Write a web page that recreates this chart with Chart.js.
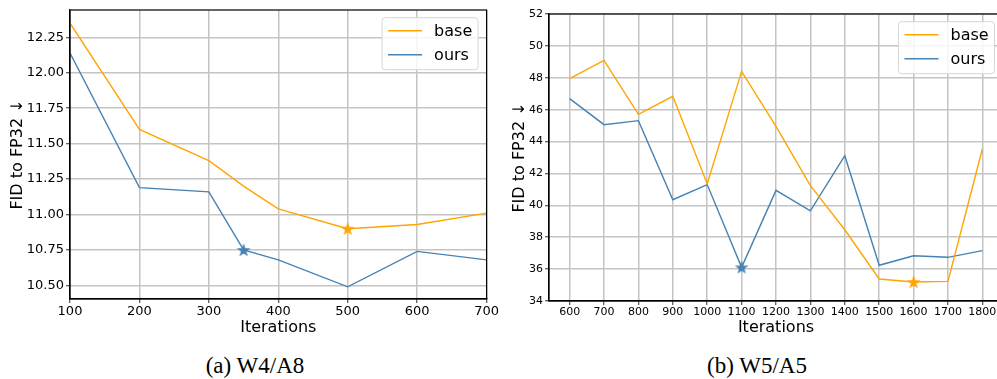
<!DOCTYPE html>
<html>
<head>
<meta charset="utf-8">
<script src="https://cdn.jsdelivr.net/npm/chart.js@4.4.1/dist/chart.umd.min.js"></script>
<style>
  html, body { margin: 0; padding: 0; background: #fff; overflow: hidden; width: 997px; height: 379px; }
  .wrap { position: absolute; top: 0; height: 340px; }
  #w1 { left: 0; width: 500px; }
  #w2 { left: 500px; width: 520px; }
  .cap { position: absolute; top: 353px; font-family: "Liberation Serif", "Times New Roman", serif; font-size: 23px; transform: translateX(-50%); white-space: nowrap; line-height: 26px; }
</style>
</head>
<body>
<div class="wrap" id="w1"><canvas id="chart1" width="500" height="340"></canvas></div>
<div class="wrap" id="w2"><canvas id="chart2" width="520" height="340"></canvas></div>
<div class="cap" style="left:255px">(a) W4/A8</div>
<div class="cap" style="left:757px">(b) W5/A5</div>
<script>
// left panel: W4/A8
const iters1 = [100, 200, 300, 350, 400, 500, 600, 700];
const base1 = [12.35, 11.60, 11.38, 11.20, 11.04, 10.90, 10.93, 11.01];
const ours1 = [12.14, 11.19, 11.16, 10.75, 10.68, 10.49, 10.74, 10.68];
const xTicks1 = [100, 200, 300, 400, 500, 600, 700];
const yTicks1 = [10.50, 10.75, 11.00, 11.25, 11.50, 11.75, 12.00, 12.25];
const bestBase1 = 500;
const bestOurs1 = 350;

// right panel: W5/A5
const iters2 = [600, 700, 800, 900, 1000, 1100, 1200, 1300, 1400, 1500, 1600, 1700, 1800];
const base2 = [47.94, 49.09, 45.71, 46.84, 41.34, 48.40, 44.95, 41.23, 38.47, 35.38, 35.19, 35.23, 43.53];
const ours2 = [46.69, 45.06, 45.31, 40.35, 41.30, 36.11, 40.94, 39.66, 43.11, 36.24, 36.84, 36.74, 37.16];
const xTicks2 = [600, 700, 800, 900, 1000, 1100, 1200, 1300, 1400, 1500, 1600, 1700, 1800];
const yTicks2 = [34, 36, 38, 40, 42, 44, 46, 48, 50, 52];
const bestBase2 = 1600;
const bestOurs2 = 1100;

const seriesNames = ['base', 'ours'];
const ORANGE = '#ffa500';
const BLUE = '#4682b4';

Chart.defaults.font.family = 'DejaVu Sans';
Chart.defaults.color = '#000';

function pts(xs, ys) {
  return xs.map((x, i) => ({ x: x, y: ys[i] }));
}

function starImage(color) {
  const c = document.createElement('canvas');
  c.width = 16; c.height = 16;
  const g = c.getContext('2d');
  g.beginPath();
  for (let i = 0; i < 10; i++) {
    const r = i % 2 === 0 ? 7.2 : 2.9;
    const a = -Math.PI / 2 + i * Math.PI / 5;
    const px = 8 + r * Math.cos(a), py = 8.5 + r * Math.sin(a);
    if (i === 0) g.moveTo(px, py); else g.lineTo(px, py);
  }
  g.closePath();
  g.fillStyle = color;
  g.fill();
  return c;
}

const framePlugin = {
  id: 'frame',
  afterDatasetsDraw(chart) {
    const a = chart.chartArea, ctx = chart.ctx;
    ctx.save();
    ctx.strokeStyle = '#000';
    ctx.lineWidth = 1.2;
    ctx.strokeRect(a.left, a.top, a.right - a.left, a.bottom - a.top);
    ctx.restore();
  }
};

const legendPlugin = {
  id: 'mplLegend',
  afterDatasetsDraw(chart) {
    const a = chart.chartArea, ctx = chart.ctx;
    const w = 96, h = 52;
    const x0 = a.right - 8.5 - w, y0 = a.top + 7.7;
    ctx.save();
    ctx.beginPath();
    ctx.roundRect(x0, y0, w, h, 3);
    ctx.fillStyle = 'rgba(255,255,255,0.85)';
    ctx.fill();
    ctx.strokeStyle = '#d6d6d6';
    ctx.lineWidth = 1;
    ctx.stroke();
    const colors = [ORANGE, BLUE];
    ctx.font = '16px "DejaVu Sans"';
    ctx.textBaseline = 'middle';
    seriesNames.forEach((name, i) => {
      const y = y0 + 13 + i * 24;
      ctx.strokeStyle = colors[i];
      ctx.lineWidth = 1.4;
      ctx.beginPath();
      ctx.moveTo(x0 + 6, y);
      ctx.lineTo(x0 + 40, y);
      ctx.stroke();
      ctx.fillStyle = '#000';
      ctx.fillText(name, x0 + 52, y + 1);
    });
    ctx.restore();
  }
};

function makeChart(id, cfg) {
  const xs = cfg.iters;
  const datasets = [
    { data: pts(xs, cfg.base), borderColor: ORANGE, borderWidth: 1.4, showLine: true, pointRadius: 0, tension: 0 },
    { data: pts(xs, cfg.ours), borderColor: BLUE, borderWidth: 1.4, showLine: true, pointRadius: 0, tension: 0 },
    { data: [{ x: cfg.bestBase, y: cfg.base[xs.indexOf(cfg.bestBase)] }], pointStyle: starImage(ORANGE), pointRadius: 8, showLine: false },
    { data: [{ x: cfg.bestOurs, y: cfg.ours[xs.indexOf(cfg.bestOurs)] }], pointStyle: starImage(BLUE), pointRadius: 8, showLine: false }
  ];
  const gridOpts = { color: '#c4c4c4', lineWidth: 1.5, drawTicks: true, tickLength: 4, tickColor: '#333', tickWidth: 1 };
  return new Chart(document.getElementById(id), {
    type: 'scatter',
    data: { datasets: datasets },
    options: {
      responsive: false,
      animation: false,
      layout: { padding: cfg.pad },
      plugins: { legend: { display: false }, tooltip: { enabled: false } },
      scales: {
        x: {
          type: 'linear', min: cfg.xMin, max: cfg.xMax,
          grid: gridOpts,
          border: { display: true, color: '#000', width: 1.2 },
          afterBuildTicks: s => { s.ticks = cfg.xTicks.map(v => ({ value: v })); },
          afterFit: s => { s.height = cfg.xH; },
          ticks: { font: { size: cfg.tickSize }, padding: 1, maxRotation: 0, callback: v => String(v) },
          title: { display: true, text: 'Iterations', font: { size: 16 }, padding: cfg.xTitlePad }
        },
        y: {
          type: 'linear', min: cfg.yMin, max: cfg.yMax,
          grid: gridOpts,
          border: { display: true, color: '#000', width: 1.2 },
          afterBuildTicks: s => { s.ticks = cfg.yTicks.map(v => ({ value: v })); },
          afterFit: s => { s.width = cfg.yW; },
          ticks: { font: { size: cfg.tickSize }, padding: 2, callback: v => v.toFixed(cfg.dec) },
          title: { display: true, text: 'FID to FP32 ↓', font: { size: 16 }, padding: cfg.yTitlePad }
        }
      }
    },
    plugins: [framePlugin, legendPlugin]
  });
}

makeChart('chart1', {
  iters: iters1, base: base1, ours: ours1, bestBase: bestBase1, bestOurs: bestOurs1,
  xTicks: xTicks1, yTicks: yTicks1, xMin: 100, xMax: 700, yMin: 10.404, yMax: 12.443,
  pad: { top: 10, right: 12, left: 0, bottom: 0 }, xH: 41, yW: 70, tickSize: 13, dec: 2,
  xTitlePad: { top: 0, bottom: 3 }, yTitlePad: { top: 8, bottom: 0 }
});

makeChart('chart2', {
  iters: iters2, base: base2, ours: ours2, bestBase: bestBase2, bestOurs: bestOurs2,
  xTicks: xTicks2, yTicks: yTicks2, xMin: 540, xMax: 1860, yMin: 34, yMax: 52,
  pad: { top: 14, right: 17, left: 0, bottom: 0 }, xH: 39, yW: 49, tickSize: 11, dec: 0,
  xTitlePad: { top: 0, bottom: 3 }, yTitlePad: { top: 10, bottom: 0 }
});
</script>
</body>
</html>
